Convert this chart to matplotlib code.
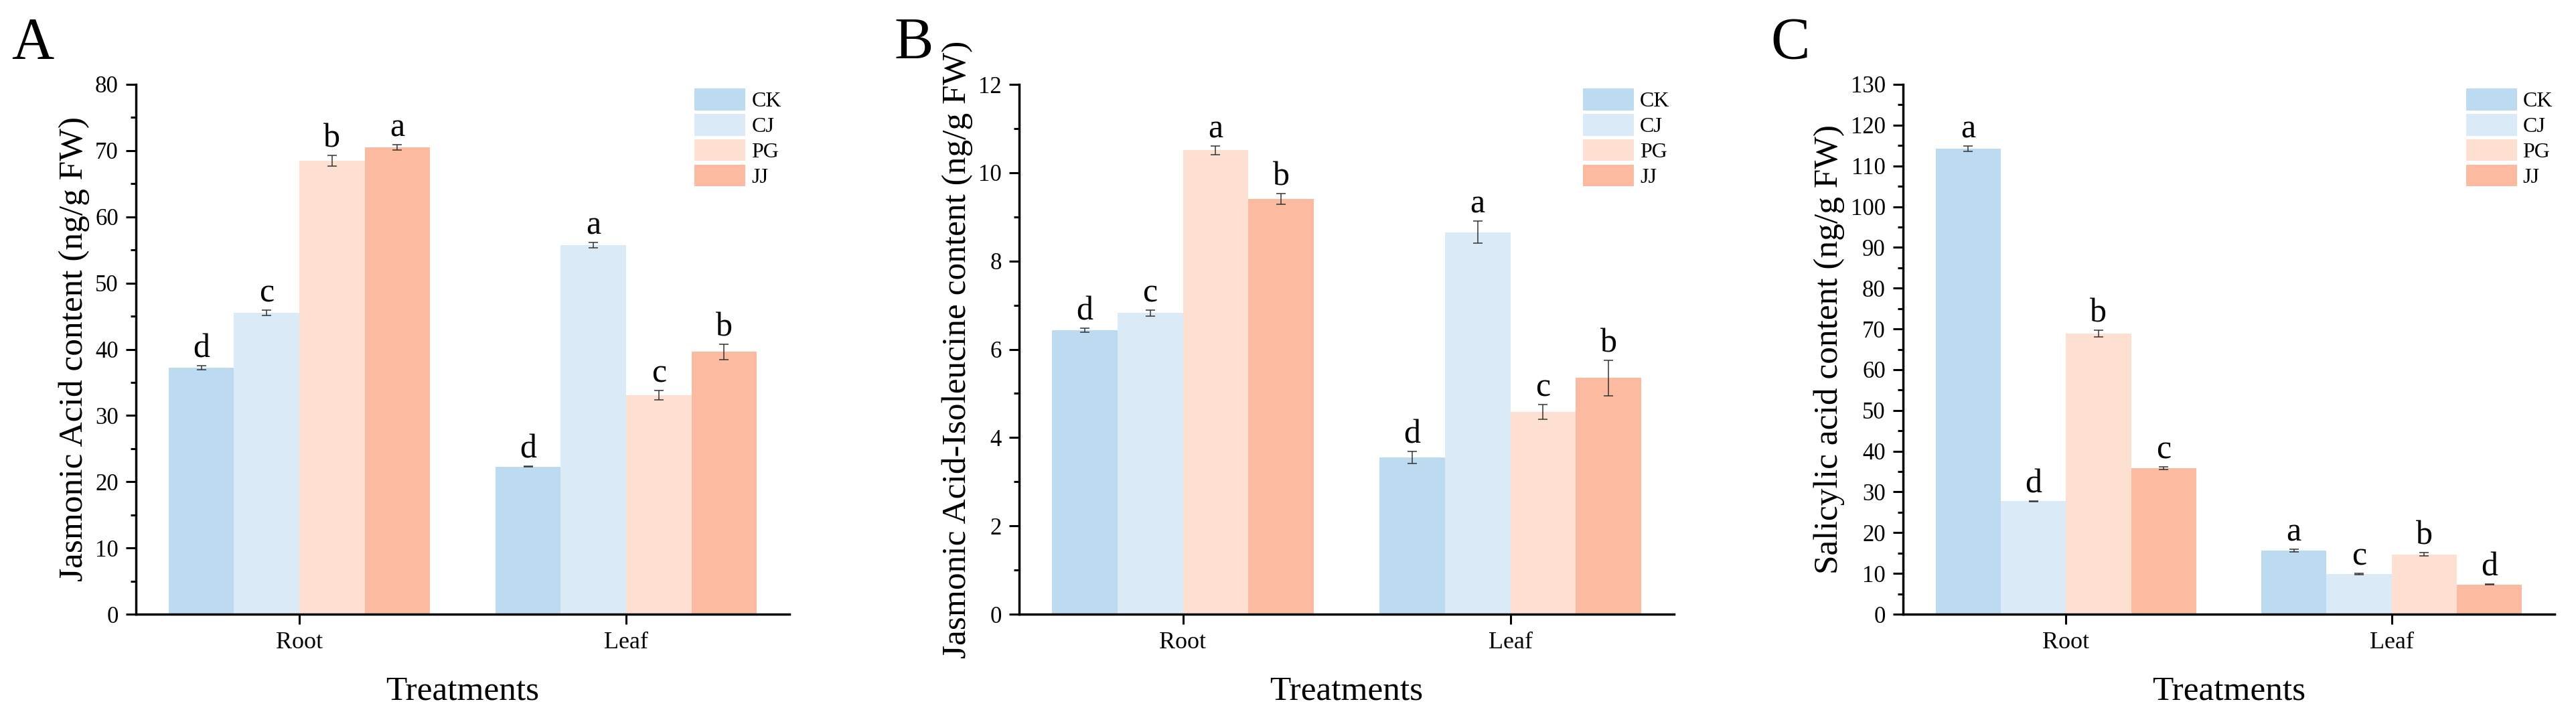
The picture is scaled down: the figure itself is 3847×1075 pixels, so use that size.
#!/usr/bin/env python3
"""Grouped bar charts of JA, JA-Ile and SA content in root and leaf."""

import matplotlib

matplotlib.use("Agg")
import matplotlib.pyplot as plt
import numpy as np
from matplotlib.ticker import MultipleLocator


TISSUES = ["Root", "Leaf"]
GROUPS = ["CK", "CJ", "PG", "JJ"]
COLORS = ["#BDDBF0", "#DBEAF7", "#FEE0D3", "#FCBBA0"]

# panel A: jasmonic acid
ja_mean = [[37.2, 45.5, 68.5, 70.5], [22.3, 55.7, 33.1, 39.6]]
ja_err = [[0.3, 0.4, 0.8, 0.4], [0.1, 0.4, 0.7, 1.2]]
ja_sig = [["d", "c", "b", "a"], ["d", "a", "c", "b"]]

# panel B: jasmonic acid-isoleucine
jaile_mean = [[6.43, 6.82, 10.51, 9.41], [3.55, 8.65, 4.58, 5.35]]
jaile_err = [[0.05, 0.07, 0.10, 0.12], [0.14, 0.25, 0.17, 0.40]]
jaile_sig = [["d", "c", "a", "b"], ["d", "a", "c", "b"]]

# panel C: salicylic acid
sa_mean = [[114.2, 27.7, 68.9, 35.8], [15.6, 9.9, 14.7, 7.3]]
sa_err = [[0.7, 0.15, 0.8, 0.3], [0.3, 0.2, 0.4, 0.15]]
sa_sig = [["a", "d", "b", "c"], ["a", "c", "b", "d"]]

plt.rcParams["font.family"] = ["Liberation Serif", "DejaVu Serif"]

W, H = 3847, 1075
DPI = 100


def plot_panel(ax, means, errs, sigs, ylabel, ymax, major, minor, leg_x):
    means = np.asarray(means)
    errs = np.asarray(errs)
    x = np.arange(len(TISSUES))
    width = 0.2
    for i, (grp, color) in enumerate(zip(GROUPS, COLORS)):
        pos = x + (i - 1.5) * width
        ax.bar(pos, means[:, i], width=width, color=color, label=grp,
               edgecolor="none", zorder=2)
        ax.errorbar(pos, means[:, i], yerr=errs[:, i], fmt="none",
                    ecolor="#333333", elinewidth=1.1, capsize=5, capthick=1.1,
                    zorder=3)
        for j in range(len(TISSUES)):
            ax.annotate(sigs[j][i], (pos[j], means[j, i] + errs[j, i]),
                        xytext=(0, 9), textcoords="offset points",
                        ha="center", va="baseline", fontsize=36)

    ax.set_xlim(-0.5, 1.5)
    ax.set_ylim(0, ymax)
    ax.set_xticks(x)
    ax.set_xticklabels(TISSUES, fontsize=26)
    ax.yaxis.set_major_locator(MultipleLocator(major))
    ax.yaxis.set_minor_locator(MultipleLocator(minor))
    ax.tick_params(axis="y", which="major", direction="out", length=10.8,
                   width=2.2, labelsize=25, pad=8)
    ax.tick_params(axis="y", which="minor", direction="out", length=6,
                   width=2.2)
    ax.tick_params(axis="x", which="major", direction="out", length=10.8,
                   width=2.2, pad=8)
    ax.tick_params(axis="x", which="minor", bottom=False)
    for side in ["top", "right"]:
        ax.spines[side].set_visible(False)
    for side in ["left", "bottom"]:
        ax.spines[side].set_linewidth(2.5)

    ax.set_ylabel(ylabel, fontsize=37, labelpad=6)
    ax.set_xlabel("Treatments", fontsize=37, labelpad=24)

    ax.legend(loc="upper left", bbox_to_anchor=(leg_x, 0.992), frameon=False,
              fontsize=23, handlelength=2.375, handleheight=1.19,
              labelspacing=0.115, handletextpad=0.28, borderpad=0,
              borderaxespad=0)


def main():
    fig = plt.figure(figsize=(W / DPI, H / DPI), dpi=DPI)
    bottom = (H - 917) / H
    height = 791 / H
    axA = fig.add_axes([203 / W, bottom, 976 / W, height])
    axB = fig.add_axes([1522 / W, bottom, 978 / W, height])
    axC = fig.add_axes([2842 / W, bottom, 973 / W, height])

    plot_panel(axA, ja_mean, ja_err, ja_sig,
               "Jasmonic Acid content (ng/g FW)", 80, 10, 5, 0.855)
    plot_panel(axB, jaile_mean, jaile_err, jaile_sig,
               "Jasmonic Acid-Isoleucine content (ng/g FW)", 12, 2, 1, 0.861)
    plot_panel(axC, sa_mean, sa_err, sa_sig,
               "Salicylic acid content (ng/g FW)", 130, 10, 5, 0.864)

    for letter, px in [("A", 17), ("B", 1336), ("C", 2644)]:
        fig.text(px / W, 1 - 87 / H, letter, fontsize=63, ha="left",
                 va="baseline")

    fig.savefig("out.png", dpi=DPI)
    plt.close(fig)


if __name__ == "__main__":
    main()
